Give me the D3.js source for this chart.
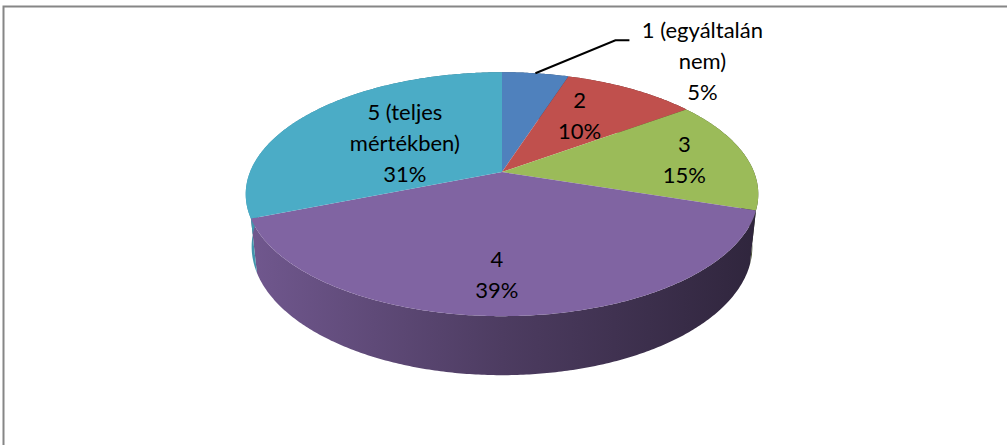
<!DOCTYPE html>
<html><head><meta charset="utf-8">
<script src="https://cdn.jsdelivr.net/npm/d3@7"></script>
<style>html,body{margin:0;padding:0;background:#fff;}svg{display:block;}</style>
</head><body>
<svg id="chart" width="1007" height="445"></svg>
<script>
// ---- data ----
const categories = ["1 (egyáltalán nem)", "2", "3", "4", "5 (teljes mértékben)"];
const values = [5, 10, 15, 39, 31];
const labelLines = [["1 (egyáltalán", "nem)"], ["2"], ["3"], ["4"], ["5 (teljes", "mértékben)"]];
const colors = ["#4F81BD", "#C0504D", "#9BBB59", "#8064A2", "#4BACC6"];

// ---- layout ----
const W = 1007, H = 445;
const cx = 502, cy = 172, k = 252;
const sinA = 0.468, cosA = 0.884, D = 4.86, thick = 0.2376;
const labelR = [0, 0.6, 0.74, 0.75, 0.5];
const labelNudge = [[0, 0], [-4, -4], [2, 0], [-12, 0], [2, 2]];
const lineH = 31;

const svg = d3.select("#chart");

// border
svg.append("rect").attr("x", 3.5).attr("y", 6.5).attr("width", W + 20).attr("height", H + 20)
  .attr("fill", "#fff").attr("stroke", "#868686").attr("stroke-width", 2);

function proj(a, r, h) {
  const x = r * Math.sin(a), z = -r * Math.cos(a), y = h;
  const u = x, v = z * sinA - y * cosA, w = z * cosA + y * sinA;
  const s = D / (D - w);
  return [cx + k * u * s, cy + k * v * s];
}

const pie = d3.pie().sort(null).value(d => d);
const arcs = pie(values);
const total = d3.sum(values);
const line = d3.line();

// gradients for walls
const defs = svg.append("defs");
colors.forEach((c, i) => {
  const g = defs.append("linearGradient").attr("id", "wall" + i)
    .attr("gradientUnits", "userSpaceOnUse").attr("x1", 245).attr("x2", 760).attr("y1", 0).attr("y2", 0);
  const base = d3.rgb(c);
  const sh = f => d3.rgb(base.r * f, base.g * f, base.b * f).formatHex();
  g.append("stop").attr("offset", 0).attr("stop-color", sh(0.88));
  g.append("stop").attr("offset", 0.5).attr("stop-color", sh(0.6));
  g.append("stop").attr("offset", 1).attr("stop-color", sh(0.37));
});

function arcPts(a0, a1, r, h) {
  const n = Math.max(2, Math.ceil((a1 - a0) / 0.01));
  const pts = [];
  for (let i = 0; i <= n; i++) pts.push(proj(a0 + (a1 - a0) * i / n, r, h));
  return pts;
}

// walls
const gWalls = svg.append("g");
arcs.forEach((d, i) => {
  const top = arcPts(d.startAngle, d.endAngle, 1, 0);
  const bot = arcPts(d.startAngle, d.endAngle, 1, -thick).reverse();
  gWalls.append("path").attr("d", line(top.concat(bot)) + "Z")
    .attr("fill", `url(#wall${i})`);
});

// top faces
const gTop = svg.append("g");
arcs.forEach((d, i) => {
  const pts = [proj(0, 0, 0)].concat(arcPts(d.startAngle, d.endAngle, 1, 0));
  gTop.append("path").attr("d", line(pts) + "Z").attr("fill", colors[i]);
});

// labels
const gLab = svg.append("g").attr("font-family", "Lato, 'Open Sans', sans-serif")
  .attr("font-size", 22).attr("fill", "#000").attr("text-anchor", "middle");

arcs.forEach((d, i) => {
  const lines = labelLines[i].concat([Math.round(values[i] / total * 100) + "%"]);
  const mid = (d.startAngle + d.endAngle) / 2;
  let px, py;
  if (i === 0) {
    const p0 = proj(mid, 1, 0);
    const elbow = [p0[0] + 80, p0[1] - 33];
    const end = [elbow[0] + 14, elbow[1]];
    svg.append("path").attr("d", line([p0, elbow, end])).attr("fill", "none")
      .attr("stroke", "#000").attr("stroke-width", 2);
    px = end[0] + 73; py = end[1] + 20;
  } else {
    const p = proj(mid, labelR[i], 0);
    px = p[0] + labelNudge[i][0]; py = p[1] + labelNudge[i][1];
  }
  const n = lines.length;
  lines.forEach((t, j) => {
    gLab.append("text").attr("x", px).attr("y", py + (j - (n - 1) / 2) * lineH)
      .attr("dominant-baseline", "central").text(t);
  });
});
</script>
</body></html>
